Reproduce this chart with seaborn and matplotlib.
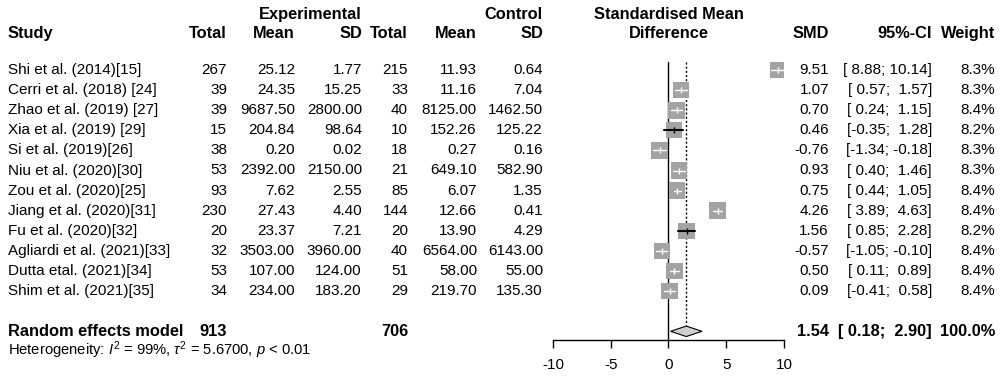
import numpy as np
import matplotlib
matplotlib.use("Agg")
import matplotlib.pyplot as plt
import matplotlib.transforms as mtransforms
import seaborn as sns

# study data
studies = ["Shi et al. (2014)[15]", "Cerri et al. (2018) [24]", "Zhao et al. (2019) [27]",
           "Xia et al. (2019) [29]", "Si et al. (2019)[26]", "Niu et al. (2020)[30]",
           "Zou et al. (2020)[25]", "Jiang et al. (2020)[31]", "Fu et al. (2020)[32]",
           "Agliardi et al. (2021)[33]", "Dutta etal. (2021)[34]", "Shim et al. (2021)[35]"]
n_exp = [267, 39, 39, 15, 38, 53, 93, 230, 20, 32, 53, 34]
mean_exp = ["25.12", "24.35", "9687.50", "204.84", "0.20", "2392.00", "7.62", "27.43", "23.37", "3503.00", "107.00", "234.00"]
sd_exp = ["1.77", "15.25", "2800.00", "98.64", "0.02", "2150.00", "2.55", "4.40", "7.21", "3960.00", "124.00", "183.20"]
n_ctl = [215, 33, 40, 10, 18, 21, 85, 144, 20, 40, 51, 29]
mean_ctl = ["11.93", "11.16", "8125.00", "152.26", "0.27", "649.10", "6.07", "12.66", "13.90", "6564.00", "58.00", "219.70"]
sd_ctl = ["0.64", "7.04", "1462.50", "125.22", "0.16", "582.90", "1.35", "0.41", "4.29", "6143.00", "55.00", "135.30"]
smd = [9.51, 1.07, 0.70, 0.46, -0.76, 0.93, 0.75, 4.26, 1.56, -0.57, 0.50, 0.09]
ci_lo = [8.88, 0.57, 0.24, -0.35, -1.34, 0.40, 0.44, 3.89, 0.85, -1.05, 0.11, -0.41]
ci_hi = [10.14, 1.57, 1.15, 1.28, -0.18, 1.46, 1.05, 4.63, 2.28, -0.10, 0.89, 0.58]
weight = [8.3, 8.3, 8.4, 8.2, 8.3, 8.3, 8.4, 8.4, 8.2, 8.4, 8.4, 8.4]

pooled_smd = 1.54
pooled_lo = 0.18
pooled_hi = 2.90
total_exp = 913
total_ctl = 706
xticks = [-10, -5, 0, 5, 10]

sns.set_theme(style="white")
plt.rcParams['font.family'] = ['Liberation Sans', 'DejaVu Sans']
plt.rcParams['mathtext.fontset'] = 'custom'
plt.rcParams['mathtext.rm'] = 'Liberation Sans'
plt.rcParams['mathtext.it'] = 'Liberation Sans:italic'

W, H = 1004, 380
fig = plt.figure(figsize=(W / 100, H / 100), dpi=100)
fig.patch.set_facecolor('white')

# forest axis: -10..10 spans pixels 553..784, row r sits at pixel 70 + 20.1*r
x0, x1 = 553, 784
ax = fig.add_axes([x0 / W, 0, (x1 - x0) / W, 1])
ax.set_xlim(-10, 10)
ax.set_ylim((H - 70) / 20.1, -70 / 20.1)
ax.patch.set_alpha(0)

rows = np.arange(len(studies))
r_pool = 13
r_het = 13.95
r_axis = 13.45

# reference lines
ax.plot([0, 0], [-0.4, r_axis], color='black', lw=1, zorder=1)
ax.plot([pooled_smd, pooled_smd], [-0.4, 12.7], color='black', lw=1, ls=(0, (1.5, 1.5)), zorder=1)

# CI lines drawn black when wider than the square
half = 8 / 11.55
for i in rows:
    if ci_lo[i] < smd[i] - half or ci_hi[i] > smd[i] + half:
        ax.plot([ci_lo[i], ci_hi[i]], [i, i], color='black', lw=1.5, zorder=4)

sns.scatterplot(x=smd, y=rows, marker='s', s=[(w / 8.4 * 12) ** 2 for w in weight],
                color='#a3a3a3', edgecolor='none', legend=False, ax=ax, zorder=3)

for i in rows:
    if not (ci_lo[i] < smd[i] - half or ci_hi[i] > smd[i] + half):
        ax.plot([ci_lo[i], ci_hi[i]], [i, i], color='white', lw=1, zorder=4)
        ax.plot([smd[i]], [i], marker='|', color='white', ms=4, mew=1, zorder=5)
    else:
        ax.plot([smd[i]], [i], marker='|', color='black', ms=4, mew=1, zorder=5)

# pooled diamond
ax.fill([pooled_lo, pooled_smd, pooled_hi, pooled_smd],
        [r_pool, r_pool - 0.26, r_pool, r_pool + 0.26],
        facecolor='#cfcfcf', edgecolor='black', lw=0.8, zorder=3)

# x axis
for s in ['top', 'right', 'left']:
    ax.spines[s].set_visible(False)
ax.spines['bottom'].set_position(('data', r_axis))
ax.spines['bottom'].set_bounds(-10, 10)
ax.spines['bottom'].set_color('black')
ax.spines['bottom'].set_linewidth(1)
ax.set_xticks(xticks)
ax.set_xticklabels([str(t) for t in xticks])
ax.set_yticks([])
ax.tick_params(axis='x', bottom=True, direction='out', length=6, width=1, labelsize=11,
               pad=7, colors='black')
ax.set_xlabel('')
ax.set_ylabel('')

# text columns
tr = mtransforms.blended_transform_factory(fig.transFigure, ax.transData)
fs = 11
fs_bold = 11.8


def put(xpx, r, s, ha='right', bold=False, size=None):
    if size is None:
        size = fs_bold if bold else fs
    ax.text(xpx / W, r, s, transform=tr, ha=ha, va='center', fontsize=size,
            fontweight='bold' if bold else 'normal', color='black', clip_on=False)


r_h1, r_h2 = -2.75, -1.82
put(362, r_h1, "Experimental", bold=True)
put(543, r_h1, "Control", bold=True)
put(669, r_h1, "Standardised Mean", ha='center', bold=True)
put(8, r_h2, "Study", ha='left', bold=True)
for xp, lab in zip([227, 295, 362, 408, 477, 543], ["Total", "Mean", "SD", "Total", "Mean", "SD"]):
    put(xp, r_h2, lab, bold=True)
put(669, r_h2, "Difference", ha='center', bold=True)
put(829, r_h2, "SMD", bold=True)
put(932, r_h2, "95%-CI", bold=True)
put(995, r_h2, "Weight", bold=True)

for i in rows:
    put(8, i, studies[i], ha='left')
    put(227, i, str(n_exp[i]))
    put(295, i, mean_exp[i])
    put(362, i, sd_exp[i])
    put(408, i, str(n_ctl[i]))
    put(477, i, mean_ctl[i])
    put(543, i, sd_ctl[i])
    put(829, i, f"{smd[i]:.2f}")
    put(932, i, f"[{ci_lo[i]:5.2f}; {ci_hi[i]:5.2f}]")
    put(995, i, f"{weight[i]:.1f}%")

put(8, r_pool, "Random effects model", ha='left', bold=True)
put(227, r_pool, str(total_exp), bold=True)
put(408, r_pool, str(total_ctl), bold=True)
put(829, r_pool, f"{pooled_smd:.2f}", bold=True)
put(932, r_pool, f"[{pooled_lo:5.2f}; {pooled_hi:5.2f}]", bold=True)
put(995, r_pool, "100.0%", bold=True)
put(8, r_het, r"Heterogeneity: $I^2$ = 99%, $\tau^2$ = 5.6700, $p$ < 0.01", ha='left', size=10.6)

fig.savefig("out.png", dpi=100)
